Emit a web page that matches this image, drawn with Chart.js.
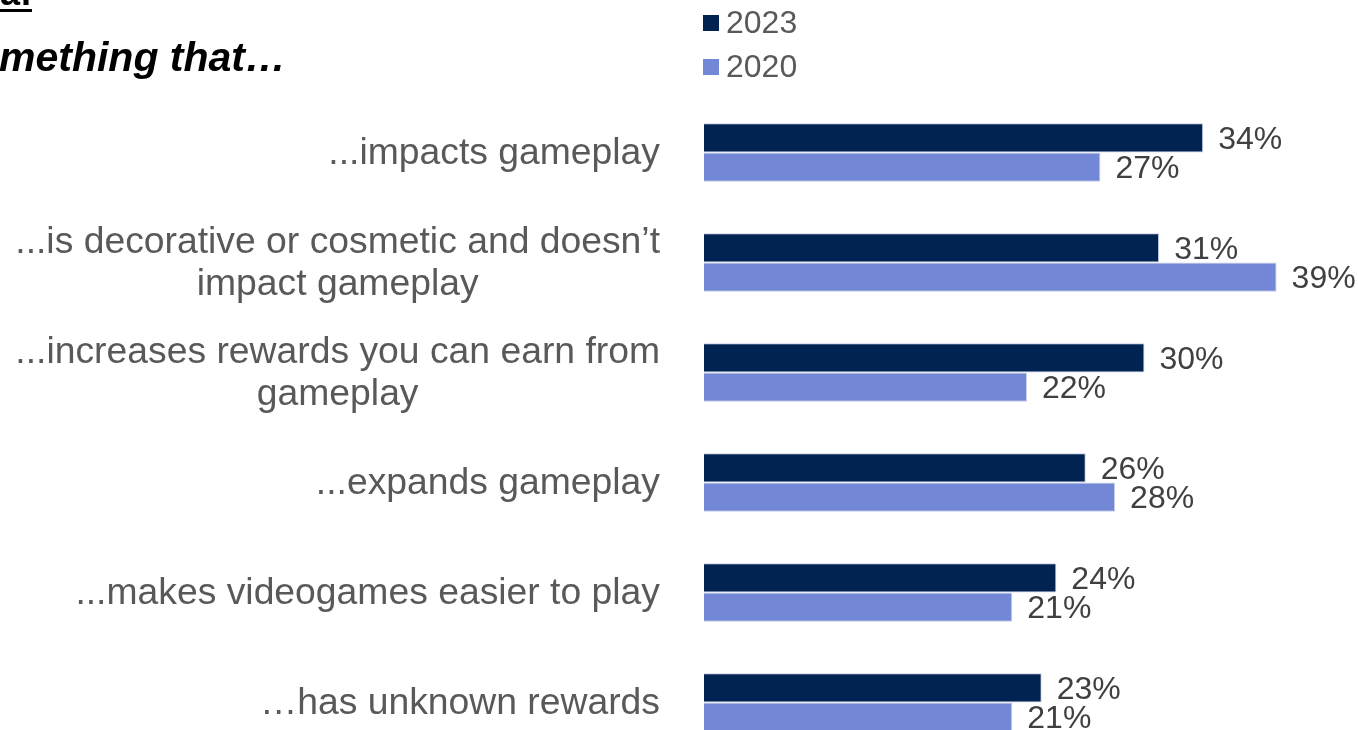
<!DOCTYPE html>
<html>
<head>
<meta charset="utf-8">
<script src="https://cdn.jsdelivr.net/npm/chart.js@4/dist/chart.umd.min.js"></script>
<style>
  html, body { margin: 0; padding: 0; background: #ffffff; width: 1358px; height: 730px; overflow: hidden; }
  #wrap { position: absolute; left: 0; top: 0; width: 1358px; height: 780px; }
</style>
</head>
<body>
<div id="wrap"><canvas id="chart"></canvas></div>
<script>
// Category labels (each entry is a list of lines)
const categories = [
  ['...impacts gameplay'],
  ['...is decorative or cosmetic and doesn\u2019t', 'impact gameplay'],
  ['...increases rewards you can earn from', 'gameplay'],
  ['...expands gameplay'],
  ['...makes videogames easier to play'],
  ['\u2026has unknown rewards']
];

// Share of respondents (%)
const values2023 = [34, 31, 30, 26, 24, 23];
const values2020 = [27, 39, 22, 28, 21, 21];

const seriesNames = ['2023', '2020'];
const titleLines = ['a:', 'mething that\u2026'];

const FONT = '"Liberation Sans", Arial, Helvetica, sans-serif';

// Headline text at the top left
const titlePlugin = {
  id: 'titleText',
  afterDraw(chart) {
    const ctx = chart.ctx;
    ctx.save();
    ctx.fillStyle = '#000000';
    ctx.textAlign = 'left';
    ctx.textBaseline = 'alphabetic';
    ctx.font = 'bold 36px ' + FONT;
    ctx.fillText(titleLines[0], 0, 5);
    const w = ctx.measureText(titleLines[0]).width;
    ctx.fillRect(0, 9, w, 3);
    ctx.font = 'italic bold 41px ' + FONT;
    ctx.fillText(titleLines[1], -1, 71);
    ctx.restore();
  }
};

// Vertical legend stacked above the bars
const legendPlugin = {
  id: 'stackedLegend',
  afterDraw(chart) {
    const ctx = chart.ctx;
    const left = chart.chartArea.left;
    ctx.save();
    ctx.font = '32px ' + FONT;
    ctx.textAlign = 'left';
    ctx.textBaseline = 'middle';
    chart.data.datasets.forEach((ds, i) => {
      const cy = 23 + i * 44;
      ctx.fillStyle = ds.backgroundColor;
      ctx.fillRect(left - 1, cy - 8, 16, 16);
      ctx.fillStyle = '#595959';
      ctx.fillText(ds.label, left + 22, cy + 1);
    });
    ctx.restore();
  }
};

// Category labels: block right-aligned to the axis, lines centred within the block
const categoryPlugin = {
  id: 'categoryLabels',
  afterDraw(chart) {
    const ctx = chart.ctx;
    const y = chart.scales.y;
    const right = chart.chartArea.left - 44;
    const lh = 42;
    ctx.save();
    ctx.font = '37.3px ' + FONT;
    ctx.fillStyle = '#595959';
    ctx.textAlign = 'center';
    ctx.textBaseline = 'middle';
    chart.data.labels.forEach((lines, i) => {
      const cy = y.getPixelForValue(i);
      const maxW = Math.max(...lines.map(l => ctx.measureText(l).width));
      const cx = right - maxW / 2;
      const top = cy - (lines.length - 1) * lh / 2 + 1;
      lines.forEach((l, k) => ctx.fillText(l, cx, top + k * lh));
    });
    ctx.restore();
  }
};

// Value labels just past the end of each bar
const valuePlugin = {
  id: 'valueLabels',
  afterDatasetsDraw(chart) {
    const ctx = chart.ctx;
    ctx.save();
    ctx.font = '32px ' + FONT;
    ctx.fillStyle = '#404040';
    ctx.textAlign = 'left';
    ctx.textBaseline = 'middle';
    chart.data.datasets.forEach((ds, di) => {
      chart.getDatasetMeta(di).data.forEach((bar, i) => {
        ctx.fillText(ds.data[i] + '%', bar.x + 15, bar.y + 2);
      });
    });
    ctx.restore();
  }
};

new Chart(document.getElementById('chart'), {
  type: 'bar',
  data: {
    labels: categories,
    datasets: [
      { label: seriesNames[0], data: values2023, backgroundColor: '#002352', borderColor: '#c9d0e8', borderWidth: 1 },
      { label: seriesNames[1], data: values2020, backgroundColor: '#7287d5', borderColor: '#c9d0e8', borderWidth: 1 }
    ]
  },
  options: {
    indexAxis: 'y',
    responsive: true,
    maintainAspectRatio: false,
    animation: false,
    layout: { padding: { left: 704, right: 8, top: 97.5, bottom: 22.5 } },
    datasets: { bar: { categoryPercentage: 0.53, barPercentage: 1.0 } },
    scales: {
      x: { display: false, min: 0, max: 44 },
      y: { display: false }
    },
    plugins: {
      legend: { display: false },
      tooltip: { enabled: false },
      title: { display: false }
    }
  },
  plugins: [titlePlugin, legendPlugin, categoryPlugin, valuePlugin]
});
</script>
</body>
</html>
